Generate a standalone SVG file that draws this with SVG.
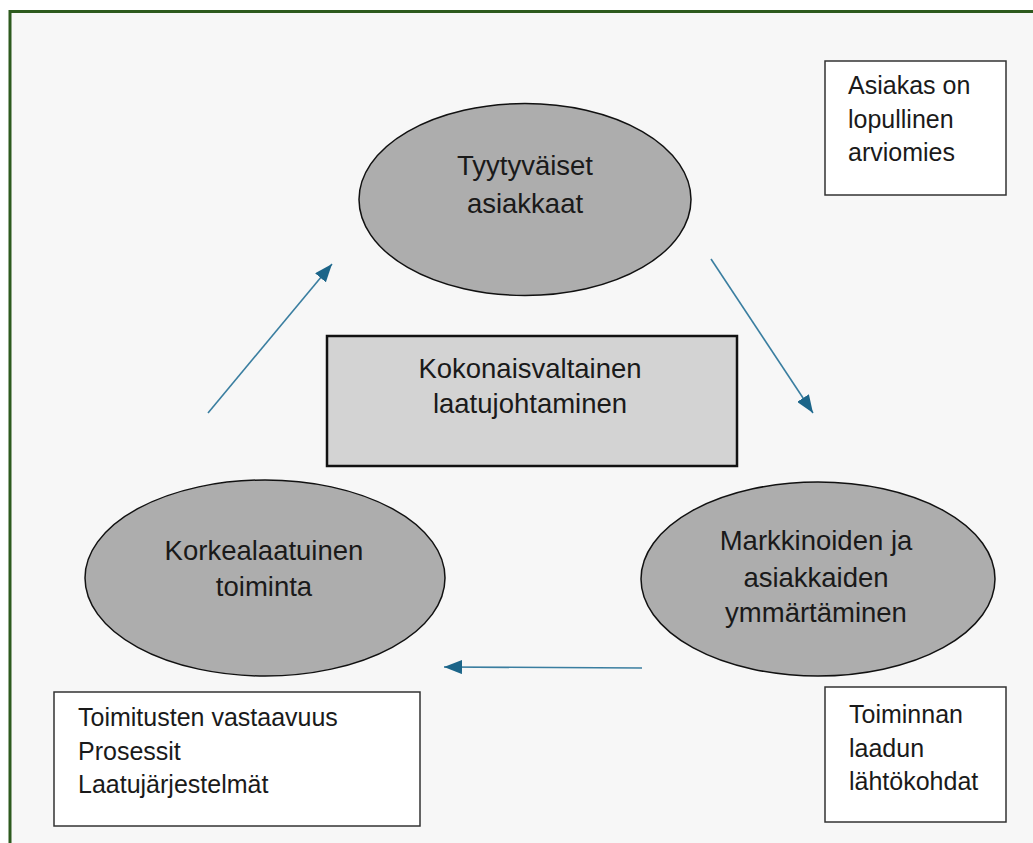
<svg xmlns="http://www.w3.org/2000/svg" width="1033" height="843" viewBox="0 0 1033 843">
<defs>
<marker id="ah" markerUnits="userSpaceOnUse" markerWidth="18" markerHeight="14" refX="18" refY="7" orient="auto">
<path d="M0,0 L18,7 L0,14 z" fill="#1c6589"/>
</marker>
<style>
.t{font-family:"Liberation Sans",Arial,sans-serif;fill:#1a1a1a}
.e{fill:#adadad;stroke:#111;stroke-width:1.5}
.b{fill:#fff;stroke:#333;stroke-width:1.5}
.c{stroke:#3a7ea0;stroke-width:1.6;fill:none;marker-end:url(#ah)}
</style>
</defs>
<rect x="0" y="0" width="1033" height="843" fill="#fff"/>
<rect id="frame" x="10" y="11.5" width="1040" height="850" fill="#f7f7f7" stroke="#2d5a1e" stroke-width="3"/>
<g id="connectors">
<line class="c" x1="711" y1="259" x2="813" y2="413"/>
<line class="c" x1="642" y1="668" x2="444" y2="667"/>
<line class="c" x1="208" y1="413" x2="332" y2="264"/>
</g>
<g id="tyytyvaiset">
<ellipse class="e" cx="525" cy="199.5" rx="166" ry="96"/>
<text class="t" font-size="27.5" text-anchor="middle"><tspan x="525" y="175">Tyytyväiset</tspan><tspan x="525" y="213">asiakkaat</tspan></text>
</g>
<g id="tqm">
<rect x="327" y="336" width="410" height="130" fill="#d3d3d3" stroke="#111" stroke-width="2.5"/>
<text class="t" font-size="27.5" text-anchor="middle"><tspan x="530" y="378">Kokonaisvaltainen</tspan><tspan x="530" y="413">laatujohtaminen</tspan></text>
</g>
<g id="korkealaatuinen">
<ellipse class="e" cx="265" cy="578" rx="180" ry="98"/>
<text class="t" font-size="27.5" text-anchor="middle"><tspan x="264" y="560">Korkealaatuinen</tspan><tspan x="264" y="596">toiminta</tspan></text>
</g>
<g id="markkinoiden">
<ellipse class="e" cx="818" cy="579" rx="177" ry="97"/>
<text class="t" font-size="27.5" text-anchor="middle"><tspan x="816" y="550">Markkinoiden ja</tspan><tspan x="816" y="587">asiakkaiden</tspan><tspan x="816" y="622">ymmärtäminen</tspan></text>
</g>
<g id="asiakas">
<rect class="b" x="825" y="61" width="181" height="134"/>
<text class="t" font-size="25"><tspan x="848" y="94">Asiakas on</tspan><tspan x="848" y="128">lopullinen</tspan><tspan x="848" y="161">arviomies</tspan></text>
</g>
<g id="toimitusten">
<rect class="b" x="54" y="692" width="366" height="134"/>
<text class="t" font-size="25"><tspan x="78" y="726">Toimitusten vastaavuus</tspan><tspan x="78" y="760">Prosessit</tspan><tspan x="78" y="793">Laatujärjestelmät</tspan></text>
</g>
<g id="toiminnan">
<rect class="b" x="825" y="687" width="181" height="135"/>
<text class="t" font-size="25"><tspan x="849" y="723">Toiminnan</tspan><tspan x="849" y="757">laadun</tspan><tspan x="849" y="790">lähtökohdat</tspan></text>
</g>
</svg>
